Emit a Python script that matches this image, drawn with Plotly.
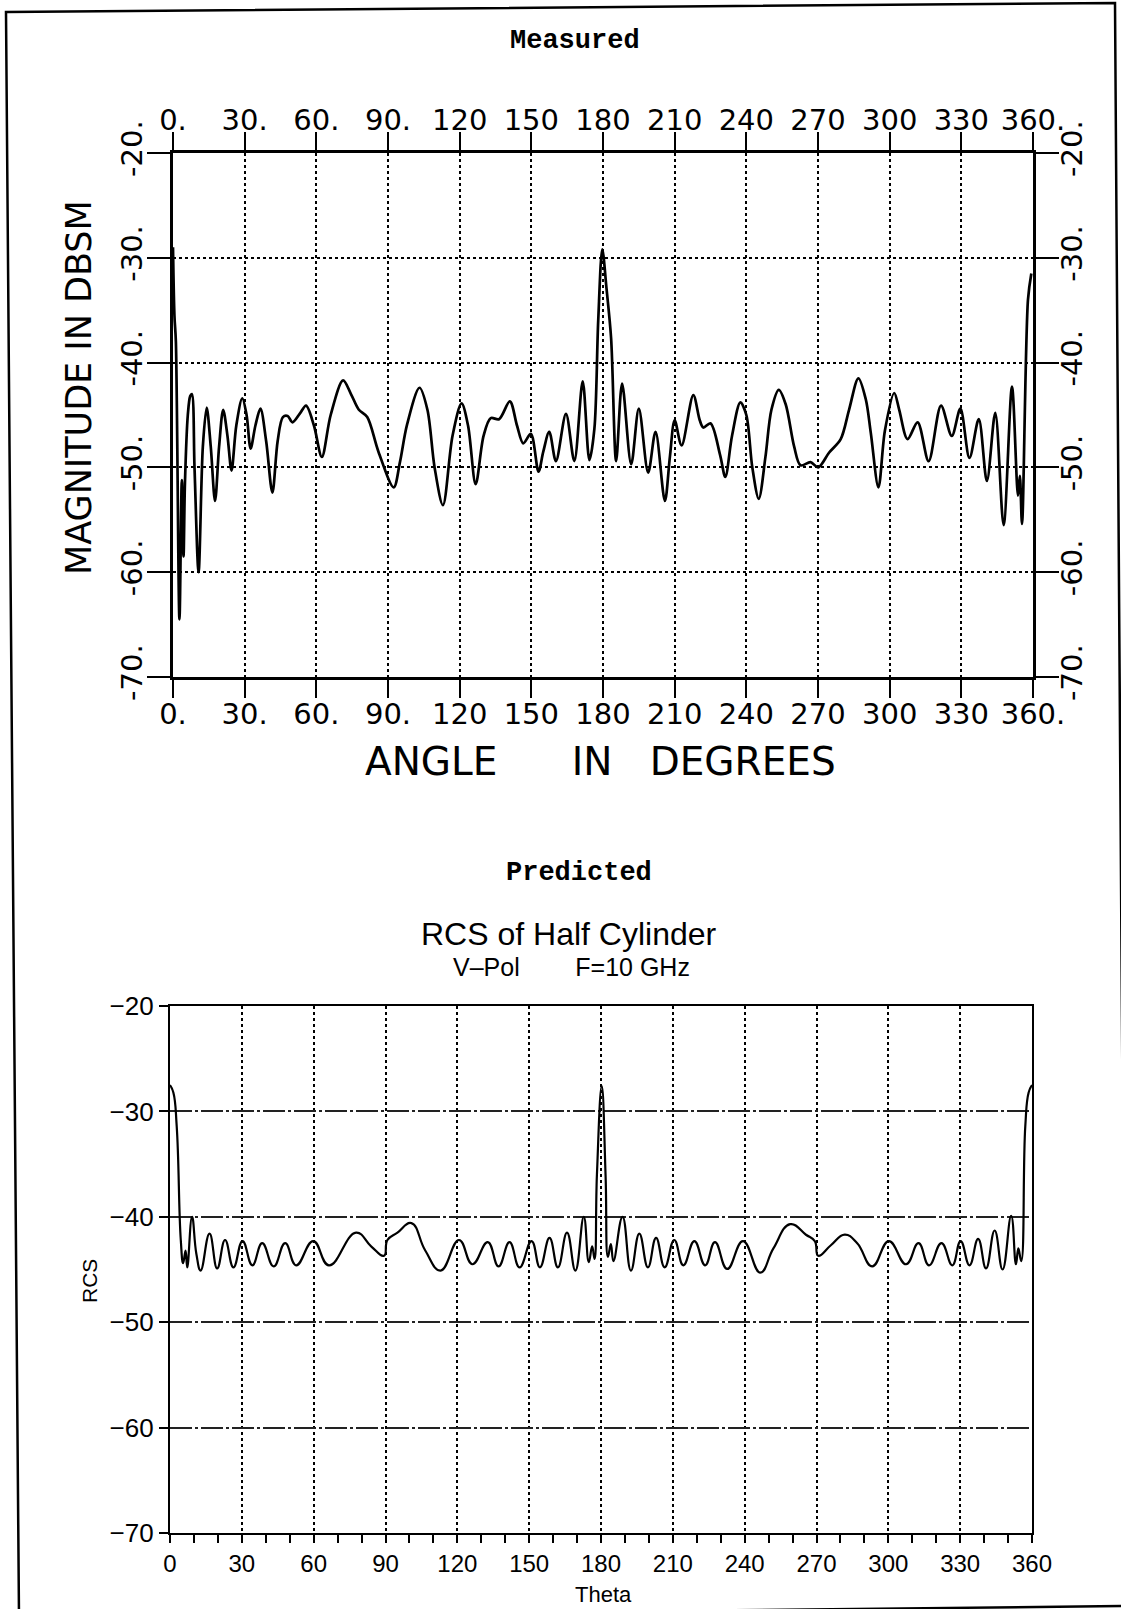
import plotly.graph_objects as go

W, H = 1121, 1609

# ---------------- data ----------------
measured_angle = [0, 0.6, 1.2, 2.7, 3.7, 4.4, 5.0, 6.2, 7.2, 7.9, 9.0, 10.7, 12.5, 14.1, 15.8, 17.6,
                  19.3, 21.0, 22.8, 24.5, 26.5, 29.0, 30.8, 32.5, 34.5, 36.6, 39.0, 41.6, 43.8, 46.0,
                  48.0, 50.0, 53.0, 55.7, 59.0, 62.3, 66.0, 71.2, 74.5, 77.8, 81.3, 86.0, 92.4, 95.0,
                  98.0, 103.2, 106.5, 109.5, 113.0, 117.0, 120.8, 123.5, 126.7, 130.0, 133.0, 136.5,
                  141.0, 144.0, 146.6, 149.8, 153.0, 155.0, 157.5, 160.3, 164.5, 168.0, 171.5, 174.3,
                  176.4, 178.0, 179.7, 181.5, 183.4, 185.5, 188.0, 191.8, 195.0, 198.9, 202.0, 205.9,
                  208.0, 210.0, 212.9, 217.8, 220.5, 222.0, 225.0, 229.0, 231.2, 234.0, 237.5, 240.0,
                  242.5, 245.2, 248.0, 250.5, 253.6, 256.5, 260.0, 262.7, 266.9, 270.1, 274.6, 279.5,
                  283.0, 286.9, 290.0, 292.1, 295.3, 298.0, 301.9, 304.0, 307.5, 311.7, 316.3, 321.5,
                  326.0, 329.6, 333.4, 337.3, 340.7, 344.2, 347.7, 351.2, 353.7, 354.5, 355.4, 357.9,
                  359.3]
measured_dbsm = [-29.0, -35.5, -38.0, -64.5, -51.2, -58.5, -51.5, -45.0, -43.2, -43.0, -50.0, -60.0,
                 -48.0, -44.3, -48.0, -53.2, -48.0, -44.5, -47.0, -50.3, -46.0, -43.4, -45.0, -48.2,
                 -46.0, -44.4, -47.5, -52.4, -47.5, -45.2, -45.1, -45.7, -44.9, -44.1, -46.0, -49.0,
                 -45.0, -41.7, -43.0, -44.5, -45.2, -48.5, -51.9, -49.5, -45.9, -42.4, -44.5, -50.0,
                 -53.6, -47.0, -43.9, -46.0, -51.6, -47.0, -45.3, -45.4, -43.7, -46.0, -47.7, -46.8,
                 -50.4, -48.5, -46.6, -49.4, -44.9, -49.4, -41.8, -49.3, -46.3, -36.0, -29.2, -33.0,
                 -37.7, -49.4, -42.0, -49.7, -44.4, -50.5, -46.6, -53.2, -49.0, -45.5, -47.9, -43.1,
                 -45.5, -46.2, -45.8, -48.8, -50.9, -47.0, -43.8, -45.0, -50.0, -53.0, -49.0, -44.5,
                 -42.6, -44.0, -48.0, -49.8, -49.5, -50.0, -48.6, -47.3, -44.5, -41.5, -43.5, -46.7,
                 -51.9, -46.5, -42.9, -44.5, -47.3, -45.7, -49.4, -44.1, -47.0, -44.4, -49.1, -45.4,
                 -51.3, -44.8, -55.5, -42.3, -52.7, -50.8, -55.4, -34.0, -31.5]

predicted_theta = [0, 1.4, 2.8, 4.5, 5.5, 6.5, 7.2, 9.2, 11.0, 12.8, 16.5, 19.7, 23.0, 26.5, 30.3,
                   34.4, 38.5, 43.3, 48.1, 52.7, 59.8, 66.4, 77.7, 84.0, 89.4, 90.8, 95.0, 100.8,
                   106.6, 113.0, 120.7, 126.3, 132.7, 137.2, 141.8, 146.0, 151.0, 154.5, 158.5,
                   162.0, 165.8, 169.3, 172.8, 174.9, 176.3, 177.3, 178.3, 180.3, 181.9, 182.9,
                   184.1, 185.2, 189.0, 192.5, 196.0, 199.6, 203.0, 206.6, 210.6, 214.4, 219.0,
                   223.5, 227.6, 232.7, 239.3, 246.5, 252.0, 259.0, 265.6, 269.3, 270.7, 276.0,
                   281.8, 287.0, 293.3, 300.2, 307.4, 312.6, 317.0, 322.2, 326.7, 330.2, 333.9,
                   337.5, 340.8, 344.4, 347.7, 351.3, 353.3, 354.3, 355.5, 357.2, 358.6, 360.0]
predicted_rcs = [-27.5, -28.2, -31.4, -42.2, -44.4, -43.2, -44.8, -40.0, -43.5, -45.1, -41.6, -44.9,
                 -42.2, -44.8, -42.3, -44.6, -42.5, -44.7, -42.5, -44.6, -42.3, -44.6, -41.5, -42.8,
                 -43.7, -42.2, -41.5, -40.6, -43.2, -45.1, -42.2, -44.5, -42.4, -44.7, -42.4, -44.8,
                 -42.3, -44.8, -42.0, -44.8, -41.5, -45.1, -40.0, -44.3, -42.8, -44.0, -36.0, -27.6,
                 -36.0, -43.8, -42.6, -44.2, -40.0, -45.1, -41.6, -44.8, -42.0, -44.8, -42.2, -44.6,
                 -42.3, -44.6, -42.4, -44.95, -42.3, -45.3, -43.0, -40.7, -41.7, -42.3, -43.7, -42.7,
                 -41.7, -42.5, -44.7, -42.3, -44.5, -42.5, -44.6, -42.5, -44.6, -42.3, -44.6, -42.1,
                 -44.9, -41.3, -45.0, -39.9, -44.5, -43.0, -44.2, -31.4, -28.2, -27.5]

top_xtick_vals = [0, 30, 60, 90, 120, 150, 180, 210, 240, 270, 300, 330, 360]
top_xtick_text = ["0.", "30.", "60.", "90.", "120", "150", "180", "210", "240", "270", "300", "330", "360."]
top_ytick_vals = [-70, -60, -50, -40, -30, -20]
top_ytick_text = ["-70.", "-60.", "-50.", "-40.", "-30.", "-20."]
bot_xtick_vals = [0, 30, 60, 90, 120, 150, 180, 210, 240, 270, 300, 330, 360]
bot_xtick_text = ["0", "30", "60", "90", "120", "150", "180", "210", "240", "270", "300", "330", "360"]
bot_ytick_vals = [-70, -60, -50, -40, -30, -20]
bot_ytick_text = ["\u221270", "\u221260", "\u221250", "\u221240", "\u221230", "\u221220"]


def px(x):
    return x / W


def py(y):
    return 1 - y / H


fig = go.Figure()

fig.add_trace(go.Scatter(x=measured_angle, y=measured_dbsm, mode="lines",
                         line=dict(color="black", width=2.7, shape="spline", smoothing=0.9),
                         xaxis="x", yaxis="y", hoverinfo="skip"))
# invisible trace that carries the mirrored (top/right) labelled axes
fig.add_trace(go.Scatter(x=measured_angle, y=measured_dbsm, mode="lines", opacity=0,
                         line=dict(color="black", width=0.1),
                         xaxis="x2", yaxis="y2", hoverinfo="skip"))
fig.add_trace(go.Scatter(x=predicted_theta, y=predicted_rcs, mode="lines",
                         line=dict(color="black", width=2.2, shape="spline", smoothing=1.3),
                         xaxis="x3", yaxis="y3", hoverinfo="skip"))

top_font = dict(family="DejaVu Sans", size=29, color="black")
bot_font = dict(family="Liberation Sans", size=24, color="black")

xdom_top = [px(173), px(1033)]
ydom_top = [py(677), py(153)]
xdom_bot = [px(170), px(1032)]
ydom_bot = [py(1533), py(1006)]

common_top_x = dict(range=[0, 360], tickmode="array", tickvals=top_xtick_vals, ticktext=top_xtick_text,
                    ticks="outside", ticklen=18, tickwidth=2.2, tickcolor="black",
                    showline=True, linewidth=2.6, linecolor="black", tickangle=0,
                    tickfont=top_font, zeroline=False, automargin=False, domain=xdom_top,
                    ticklabelstandoff=-9)
common_top_y = dict(range=[-70, -20], tickmode="array", tickvals=top_ytick_vals, ticktext=top_ytick_text,
                    ticks="outside", ticklen=23, tickwidth=2.2, tickcolor="black",
                    showline=True, linewidth=2.6, linecolor="black", tickangle=-90,
                    tickfont=top_font, zeroline=False, automargin=False, domain=ydom_top)

fig.update_layout(
    width=W, height=H, autosize=False,
    margin=dict(l=0, r=0, t=0, b=0),
    paper_bgcolor="white", plot_bgcolor="white",
    showlegend=False,
    xaxis=dict(**common_top_x, anchor="y", side="bottom",
               showgrid=True, gridcolor="black", gridwidth=2, griddash="dot"),
    xaxis2=dict(**common_top_x, anchor="y", side="top", overlaying="x", showgrid=False),
    yaxis=dict(**common_top_y, anchor="x", side="left", ticklabelstandoff=-6,
               showgrid=True, gridcolor="black", gridwidth=2, griddash="dot"),
    yaxis2=dict(**common_top_y, anchor="x", side="right", overlaying="y", showgrid=False,
                ticklabelstandoff=-12),
    xaxis3=dict(range=[0, 360], tickmode="array", tickvals=bot_xtick_vals, ticktext=bot_xtick_text,
                ticks="outside", ticklen=8, tickwidth=1.8, tickcolor="black",
                minor=dict(dtick=10, tick0=0, ticks="outside", ticklen=8, tickwidth=1.5,
                           tickcolor="black", showgrid=False),
                showline=True, linewidth=2.2, linecolor="black", mirror=True, tickangle=0,
                tickfont=bot_font, zeroline=False, automargin=False, domain=xdom_bot,
                anchor="y3", showgrid=True, gridcolor="black", gridwidth=1.5, griddash="dot"),
    yaxis3=dict(range=[-70, -20], tickmode="array", tickvals=bot_ytick_vals, ticktext=bot_ytick_text,
                ticks="outside", ticklen=9, tickwidth=1.8, tickcolor="black",
                showline=True, linewidth=2.2, linecolor="black", mirror=True,
                tickfont=dict(family="Liberation Sans", size=26, color="black"),
                zeroline=False, automargin=False, domain=ydom_bot,
                anchor="x3", showgrid=True, gridcolor="#222222", gridwidth=1.6,
                griddash="22px,3px,3px,3px"),
)

mono_bold = "Liberation Mono, Courier New, monospace"
sans_c = "Liberation Sans Narrow, Liberation Sans"
nb = "\u00a0"
annots = [
    dict(text="<b>Measured</b>", x=px(575), y=py(41), font=dict(family=mono_bold, size=27, color="black")),
    dict(text="<b>Predicted</b>", x=px(579), y=py(873), font=dict(family=mono_bold, size=27, color="black")),
    dict(text="ANGLE" + nb * 6 + "IN" + nb * 3 + "DEGREES", x=px(600), y=py(762),
         font=dict(family="DejaVu Sans", size=39, color="black")),
    dict(text="MAGNITUDE IN DBSM", x=px(79), y=py(388), textangle=-90,
         font=dict(family="DejaVu Sans", size=35, color="black")),
    dict(text="RCS of Half Cylinder", x=px(569), y=py(934),
         font=dict(family=sans_c, size=32, color="black")),
    dict(text="V\u2013Pol" + nb * 8 + "F=10 GHz", x=px(571), y=py(967),
         font=dict(family=sans_c, size=25, color="black")),
    dict(text="RCS", x=px(89), y=py(1281), textangle=-90,
         font=dict(family=sans_c, size=21, color="black")),
    dict(text="Theta", x=px(603), y=py(1594),
         font=dict(family=sans_c, size=22, color="black")),
]
for a in annots:
    a.update(xref="paper", yref="paper", showarrow=False, xanchor="center", yanchor="middle")
fig.update_layout(annotations=annots)

# scanned page frame (slightly skewed)
frame = "M {:.5f},{:.5f} L {:.5f},{:.5f} L {:.5f},{:.5f} L {:.5f},{:.5f} Z".format(
    px(6), py(12), px(1115), py(3), px(1126), py(1606), px(19), py(1618))
fig.add_shape(type="path", path=frame, xref="paper", yref="paper",
              line=dict(color="black", width=2.5), fillcolor="rgba(0,0,0,0)")

fig.write_html("out.html", config={"displayModeBar": False},
               post_script="document.body.style.margin='0px';document.body.style.overflow='hidden';")
